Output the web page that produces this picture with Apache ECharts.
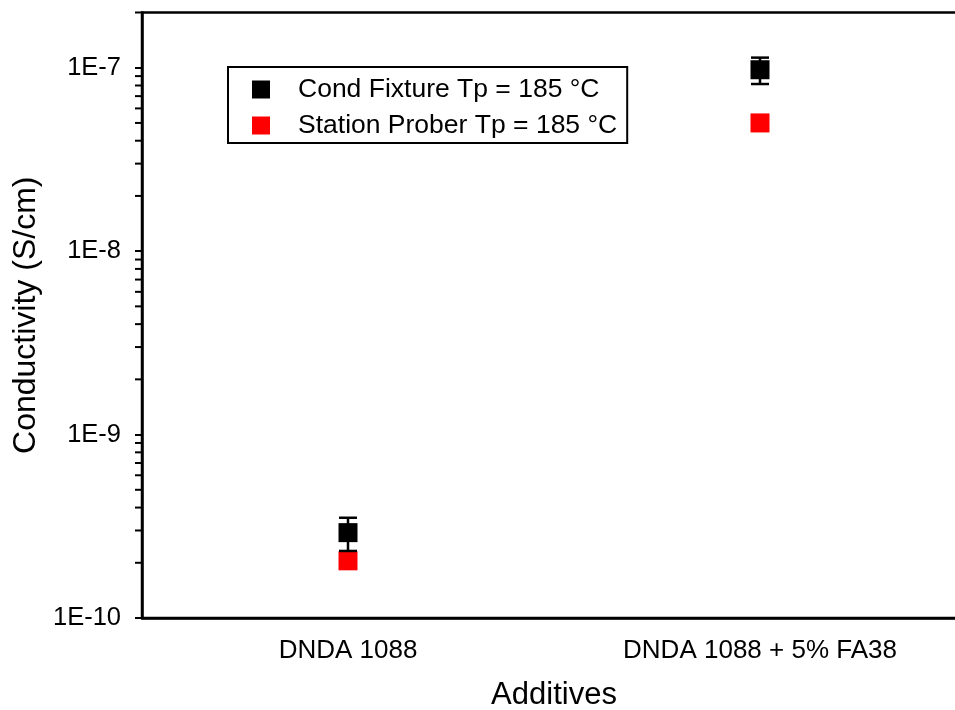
<!DOCTYPE html>
<html>
<head>
<meta charset="utf-8">
<script src="https://cdn.jsdelivr.net/npm/echarts@6/dist/echarts.min.js"></script>
<style>
  html, body { margin: 0; padding: 0; background: #fff; }
  #chart { width: 955px; height: 710px; }
</style>
</head>
<body>
<div id="chart"></div>
<script>
// Sample categories on the x axis
const categories = ['DNDA 1088', 'DNDA 1088 + 5% FA38'];

// Conductivity (S/cm) measured with the conductivity fixture, with its error
const condFixture = [2.92e-10, 9.75e-8];
const condFixtureErr = [0.6e-10, 1.6e-8];

// Conductivity (S/cm) measured on the probe station
const stationProber = [2.05e-10, 5.0e-8];

// Log axis: decades carrying labels, and the 2..9 minor ticks in each decade
const decadeExponents = [-10, -9, -8, -7];
const minorMultipliers = [2, 3, 4, 5, 6, 7, 8, 9];
const yMin = 1e-10;
const yMax = 2e-7;

const seriesNames = ['Cond Fixture Tp = 185 \u00B0C', 'Station Prober Tp = 185 \u00B0C'];

const FONT = "'Liberation Sans', Arial, sans-serif";

const minorTickValues = [];
decadeExponents.forEach(function (e) {
  minorMultipliers.forEach(function (m) {
    const v = m * Math.pow(10, e);
    if (v <= yMax * 1.0001) minorTickValues.push([0, v]);
  });
});

const chart = echarts.init(document.getElementById('chart'), null, { renderer: 'canvas' });

const option = {
  backgroundColor: '#ffffff',
  animation: false,
  grid: {
    left: 142,
    top: 12.5,
    bottom: 92,
    right: -11,
    show: true,
    borderColor: '#000',
    borderWidth: 2.5,
    outerBoundsMode: 'none'
  },
  legend: {
    orient: 'vertical',
    left: 228,
    top: 67,
    padding: [9, 10, 4, 24],
    itemWidth: 18,
    itemHeight: 18,
    itemGap: 9,
    icon: 'rect',
    borderColor: '#000',
    borderWidth: 2,
    backgroundColor: '#fff',
    data: seriesNames,
    textStyle: {
      fontFamily: FONT,
      fontSize: 26.5,
      lineHeight: 27,
      color: '#000',
      padding: [0, 0, 0, 23]
    }
  },
  xAxis: [
    {
      type: 'category',
      data: categories,
      boundaryGap: true,
      name: 'Additives',
      nameLocation: 'middle',
      nameGap: 62,
      nameTextStyle: { fontFamily: FONT, fontSize: 31, color: '#000' },
      axisLine: { lineStyle: { color: '#000', width: 2.5 } },
      axisTick: { alignWithLabel: true, length: 10, lineStyle: { color: '#000', width: 2 } },
      axisLabel: { fontFamily: FONT, fontSize: 26, color: '#000', margin: 20 },
      splitLine: { show: false }
    },
    {
      // Short boundary ticks between the categories
      type: 'category',
      data: categories,
      boundaryGap: true,
      position: 'bottom',
      axisLine: { show: false },
      axisTick: { alignWithLabel: false, length: 5, lineStyle: { color: '#000', width: 2 } },
      axisLabel: { show: false },
      splitLine: { show: false }
    }
  ],
  yAxis: {
    type: 'log',
    logBase: 10,
    min: yMin,
    max: yMax,
    name: 'Conductivity (S/cm)',
    nameLocation: 'middle',
    nameGap: 93,
    nameTextStyle: { fontFamily: FONT, fontSize: 32, color: '#000' },
    axisLine: { show: true, lineStyle: { color: '#000', width: 2.5 } },
    axisTick: { show: true, length: 7, lineStyle: { color: '#000', width: 2 } },
    axisLabel: {
      fontFamily: FONT,
      fontSize: 25.5,
      color: '#000',
      margin: 21,
      showMaxLabel: false,
      formatter: function (v) {
        const e = Math.log10(v);
        if (Math.abs(e - Math.round(e)) > 1e-6) return '';
        return '1E' + Math.round(e);
      }
    },
    splitLine: { show: false }
  },
  series: [
    {
      name: seriesNames[0],
      type: 'scatter',
      symbol: 'rect',
      symbolSize: 19,
      itemStyle: { color: '#000000', opacity: 1 },
      emphasis: { disabled: true },
      data: condFixture.map(function (v, i) { return [i, v]; }),
      z: 3
    },
    {
      name: seriesNames[1],
      type: 'scatter',
      symbol: 'rect',
      symbolSize: 19,
      itemStyle: { color: '#ff0000', opacity: 1 },
      emphasis: { disabled: true },
      data: stationProber.map(function (v, i) { return [i, v]; }),
      z: 3
    },
    {
      // Error bars of the fixture measurement
      name: 'errorbars',
      type: 'custom',
      z: 4,
      data: condFixture.map(function (v, i) {
        return [i, v - condFixtureErr[i], v + condFixtureErr[i]];
      }),
      renderItem: function (params, api) {
        const lo = api.coord([api.value(0), api.value(1)]);
        const hi = api.coord([api.value(0), api.value(2)]);
        const hw = 9;
        const style = { stroke: '#000', lineWidth: 2.5 };
        return {
          type: 'group',
          children: [
            { type: 'line', shape: { x1: lo[0], y1: lo[1], x2: hi[0], y2: hi[1] }, style: style },
            { type: 'line', shape: { x1: lo[0] - hw, y1: lo[1], x2: lo[0] + hw, y2: lo[1] }, style: style },
            { type: 'line', shape: { x1: hi[0] - hw, y1: hi[1], x2: hi[0] + hw, y2: hi[1] }, style: style }
          ]
        };
      }
    },
    {
      // Minor ticks of the log axis (2..9 within each decade)
      name: 'minorTicks',
      type: 'custom',
      silent: true,
      clip: false,
      z: 5,
      data: minorTickValues,
      renderItem: function (params, api) {
        const p = api.coord([api.value(0), api.value(1)]);
        const band = api.size([1, 0])[0];
        const x0 = p[0] - band / 2;
        return {
          type: 'line',
          shape: { x1: x0 - 7, y1: p[1], x2: x0, y2: p[1] },
          style: { stroke: '#000', lineWidth: 2 }
        };
      }
    }
  ]
};

chart.setOption(option);
</script>
</body>
</html>
